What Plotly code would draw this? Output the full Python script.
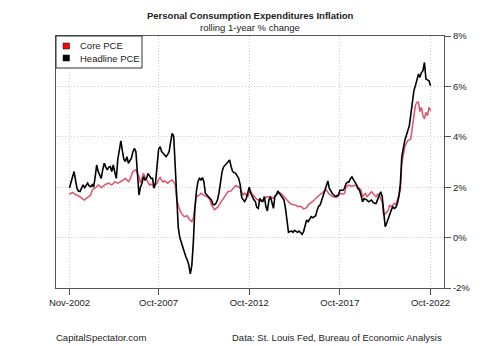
import pandas as pd
import plotly.graph_objects as go

# ---- data (monthly, Nov-2002 .. Oct-2022), rolling 1-year % change ----
start_month = "2002-11-01"
n_months = 240

headline_pce = [
    1.98, 2.20, 2.45, 2.62, 2.30, 1.95, 1.85, 1.83, 1.95, 2.09, 1.98, 2.05,
    2.16, 2.05, 2.02, 2.10, 2.00, 2.40, 2.88, 2.62, 2.45, 2.35, 2.70, 2.95,
    2.80, 2.69, 2.80, 2.82, 2.62, 2.88, 2.60, 2.35, 3.10, 3.41, 3.84, 3.45,
    3.10, 3.02, 3.21, 2.95, 3.05, 3.15, 3.40, 3.54, 3.41, 2.62, 1.69, 2.00,
    2.16, 2.42, 2.29, 2.35, 2.55, 2.45, 2.35, 2.35, 1.96, 2.20, 2.75, 3.50,
    3.61, 3.41, 3.35, 3.28, 3.21, 3.30, 3.41, 3.81, 4.14, 4.01, 2.90, 1.50,
    0.40, 0.00, -0.20, -0.36, -0.60, -0.75, -0.89, -1.08, -1.44, -1.10, -0.16, 1.16,
    1.83, 2.22, 2.35, 2.29, 2.38, 2.22, 1.76, 1.70, 1.63, 1.55, 1.49, 1.32,
    1.30, 1.36, 1.50, 1.80, 2.22, 2.60, 2.80, 2.88, 2.95, 3.02, 3.08, 2.82,
    2.62, 2.58, 2.55, 2.45, 2.35, 2.10, 1.60, 1.50, 1.43, 1.55, 1.83, 2.00,
    1.76, 1.60, 1.50, 1.43, 1.20, 1.16, 1.56, 1.45, 1.43, 1.63, 1.23, 1.06,
    1.49, 1.63, 1.35, 1.16, 1.63, 1.70, 1.85, 1.76, 1.69, 1.60, 1.49, 1.16,
    0.63, 0.21, 0.24, 0.26, 0.21, 0.29, 0.25, 0.21, 0.26, 0.20, 0.13, 0.24,
    0.50, 0.70, 0.63, 0.75, 0.83, 0.79, 0.82, 0.87, 1.10, 1.25, 1.30, 1.49,
    1.76, 1.95, 2.09, 2.25, 1.96, 1.83, 1.75, 1.69, 1.63, 1.66, 1.69, 1.88,
    1.89, 1.88, 1.95, 2.14, 2.20, 2.21, 2.34, 2.41, 2.30, 2.21, 2.10, 1.95,
    1.88, 1.68, 1.42, 1.55, 1.52, 1.49, 1.42, 1.45, 1.49, 1.40, 1.36, 1.36,
    1.50, 1.65, 1.82, 1.62, 0.96, 0.43, 0.57, 0.76, 0.96, 1.09, 1.22, 1.16,
    1.20, 1.35, 1.62, 2.14, 3.20, 3.59, 3.86, 4.05, 4.25, 4.45, 4.91, 5.43,
    5.83, 6.03, 6.22, 6.49, 6.36, 6.55, 6.62, 6.95, 6.29, 6.25, 6.22, 6.03,
]

core_pce = [
    1.72, 1.75, 1.79, 1.75, 1.70, 1.69, 1.66, 1.63, 1.58, 1.52, 1.49, 1.55,
    1.59, 1.65, 1.69, 1.89, 1.92, 1.96, 2.02, 2.09, 2.05, 1.98, 2.02, 2.09,
    2.12, 2.14, 2.16, 2.12, 2.09, 2.15, 2.22, 2.18, 2.16, 2.19, 2.22, 2.25,
    2.30, 2.35, 2.30, 2.22, 2.30, 2.45, 2.62, 2.66, 2.69, 2.55, 2.42, 2.16,
    2.35, 2.55, 2.40, 2.29, 2.20, 2.09, 2.12, 2.05, 2.02, 2.10, 2.16, 2.30,
    2.38, 2.28, 2.20, 2.25, 2.20, 2.16, 2.22, 2.25, 2.29, 2.20, 2.09, 1.49,
    1.23, 1.10, 0.97, 0.90, 0.83, 0.85, 0.87, 0.75, 0.70, 0.63, 0.77, 1.30,
    1.63, 1.66, 1.69, 1.76, 1.72, 1.67, 1.65, 1.63, 1.56, 1.50, 1.30, 1.20,
    1.10, 1.16, 1.20, 1.30, 1.38, 1.46, 1.55, 1.63, 1.72, 1.83, 1.83, 1.85,
    1.93, 2.00, 2.06, 2.04, 2.02, 1.96, 1.80, 1.69, 1.76, 1.70, 1.63, 1.80,
    1.83, 1.72, 1.65, 1.58, 1.52, 1.50, 1.46, 1.48, 1.49, 1.55, 1.59, 1.62,
    1.63, 1.60, 1.58, 1.56, 1.65, 1.72, 1.76, 1.76, 1.76, 1.69, 1.62, 1.56,
    1.48, 1.40, 1.36, 1.32, 1.31, 1.30, 1.28, 1.23, 1.23, 1.24, 1.20, 1.14,
    1.16, 1.19, 1.30, 1.36, 1.40, 1.44, 1.49, 1.55, 1.63, 1.68, 1.72, 1.76,
    1.83, 1.86, 1.89, 1.80, 1.72, 1.69, 1.63, 1.62, 1.60, 1.59, 1.65, 1.76,
    1.74, 1.72, 1.75, 2.01, 2.05, 2.08, 2.06, 2.04, 2.06, 2.08, 2.05, 2.01,
    1.95, 1.88, 1.62, 1.70, 1.75, 1.62, 1.70, 1.75, 1.82, 1.75, 1.68, 1.62,
    1.72, 1.70, 1.55, 1.42, 0.89, 0.93, 1.00, 1.09, 1.29, 1.22, 1.32, 1.36,
    1.29, 1.49, 1.62, 1.88, 2.93, 3.35, 3.60, 3.75, 3.85, 3.88, 3.92, 4.40,
    4.85, 5.24, 5.37, 5.37, 5.00, 5.17, 4.84, 4.71, 4.97, 4.84, 5.17, 5.04,
]

x_tick_dates = ["2002-11-01", "2007-10-01", "2012-10-01", "2017-10-01", "2022-10-01"]
x_tick_labels = ["Nov-2002", "Oct-2007", "Oct-2012", "Oct-2017", "Oct-2022"]
y_tick_vals = [-2, 0, 2, 4, 6, 8]
y_tick_labels = ["-2%", "0%", "2%", "4%", "6%", "8%"]

series_names = ["Core PCE", "Headline PCE"]
line_colors = ["#DF536B", "#000000"]
legend_colors = ["#FF0000", "#000000"]

dates = pd.date_range(start=start_month, periods=n_months, freq="MS")

FONT = "Liberation Sans, Arial, sans-serif"
FS = 9.5
GRID = dict(showgrid=True, gridcolor="#CFCFCF", griddash="1px,2px", gridwidth=1)

fig = go.Figure()
fig.add_trace(go.Scatter(x=dates, y=core_pce, mode="lines", name=series_names[0],
                         line=dict(color=line_colors[0], width=1.5), showlegend=False))
fig.add_trace(go.Scatter(x=dates, y=headline_pce, mode="lines", name=series_names[1],
                         line=dict(color=line_colors[1], width=1.6), showlegend=False))

# page geometry helpers (margins in pixels)
L, R, T, B = 56, 56, 36, 58
W, H = 500, 346
PW, PH = W - L - R, H - T - B


def px(xp):
    return (xp - L) / PW


def py(yp):
    return (H - B - yp) / PH


fig.update_layout(
    width=W, height=H,
    margin=dict(l=L, r=R, t=T, b=B, autoexpand=False),
    paper_bgcolor="white", plot_bgcolor="white",
    font=dict(family=FONT, size=FS, color="#222222"),
    showlegend=False,
    xaxis=dict(
        type="date", range=["2002-02-02", "2023-06-30"],
        tickvals=x_tick_dates, ticktext=x_tick_labels,
        ticks="outside", ticklen=6, tickcolor="#555555",
        showline=True, linecolor="#555555", linewidth=1, mirror=True,
        zeroline=False, automargin=False,
        tickfont=dict(family=FONT, size=FS, color="#222222"),
        **GRID,
    ),
    yaxis=dict(
        range=[-2, 8], side="right",
        tickvals=y_tick_vals, ticktext=y_tick_labels,
        ticks="outside", ticklen=6, tickcolor="#555555",
        showline=True, linecolor="#555555", linewidth=1, mirror=True,
        zeroline=False, automargin=False,
        tickfont=dict(family=FONT, size=FS, color="#222222"),
        **GRID,
    ),
)

# title + subtitle
fig.add_annotation(text="<b>Personal Consumption Expenditures Inflation</b>",
                   xref="paper", yref="paper", x=0.5, y=py(15), xanchor="center",
                   yanchor="middle", showarrow=False, font=dict(size=FS, color="#222222"))
fig.add_annotation(text="rolling 1-year % change",
                   xref="paper", yref="paper", x=0.5, y=py(28), xanchor="center",
                   yanchor="middle", showarrow=False, font=dict(size=FS, color="#222222"))

# footer
fig.add_annotation(text="CapitalSpectator.com", xref="paper", yref="paper",
                   x=px(54), y=py(337), xanchor="left", yanchor="middle",
                   showarrow=False, font=dict(size=FS, color="#222222"))
fig.add_annotation(text="Data: St. Louis Fed, Bureau of Economic Analysis",
                   xref="paper", yref="paper", x=px(444), y=py(337), xanchor="right",
                   yanchor="middle", showarrow=False, font=dict(size=FS, color="#222222"))

# legend box (drawn manually to match the R-style legend)
fig.add_shape(type="rect", xref="paper", yref="paper",
              x0=px(56), x1=px(142), y0=py(68), y1=py(36),
              line=dict(color="#333333", width=1), fillcolor="white", layer="above")
for i, (name, col) in enumerate(zip(series_names, legend_colors)):
    cy = 46 + 12 * i
    fig.add_shape(type="rect", xref="paper", yref="paper",
                  x0=px(63), x1=px(69.5), y0=py(cy + 3), y1=py(cy - 3),
                  line=dict(color="#222222", width=0.6), fillcolor=col, layer="above")
    fig.add_annotation(text=name, xref="paper", yref="paper", x=px(78), y=py(cy),
                       xanchor="left", yanchor="middle", showarrow=False,
                       font=dict(size=FS, color="#222222"))

fig.write_html("out.html")
